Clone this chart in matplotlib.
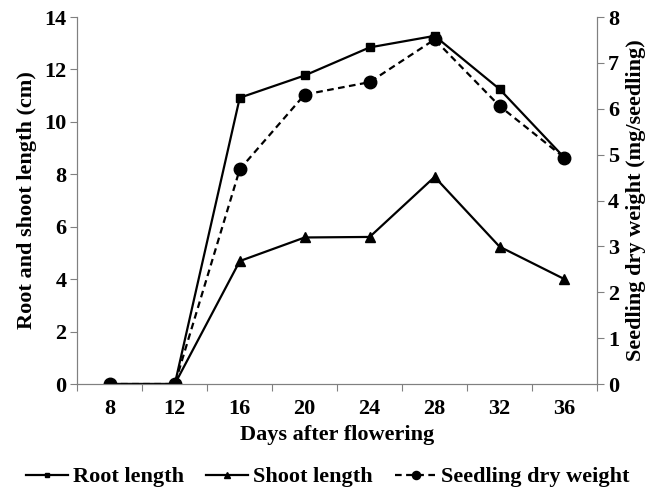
import matplotlib
matplotlib.use('Agg')
import matplotlib.pyplot as plt
import numpy as np

plt.rcParams['font.family'] = ['Liberation Serif', 'DejaVu Serif']
plt.rcParams['font.weight'] = 'bold'

days = [8, 12, 16, 20, 24, 28, 32, 36]
root_length = [0, 0, 10.92, 11.77, 12.84, 13.28, 11.25, 8.63]
shoot_length = [0, 0, 4.69, 5.59, 5.61, 7.9, 5.24, 4.0]
dry_weight = [0, 0, 4.68, 6.31, 6.58, 7.51, 6.06, 4.93]

fig = plt.figure(figsize=(6.56, 4.9), dpi=100)
ax = fig.add_axes([0.118, 0.2163, 0.792, 0.749])
ax2 = ax.twinx()

l1, = ax.plot(days, root_length, color='black', lw=1.6, marker='s', ms=5.5, label='Root length')
l2, = ax.plot(days, shoot_length, color='black', lw=1.6, marker='^', ms=7.5, label='Shoot length')
l3, = ax2.plot(days, dry_weight, color='black', lw=1.6, ls='--', dashes=(3, 2), marker='o', ms=9, label='Seedling dry weight')

ax.set_xlim(6, 38)
ax.set_ylim(0, 14)
ax2.set_ylim(0, 8)
ax.set_yticks(range(0, 15, 2))
ax2.set_yticks(range(0, 9))

# category axis: ticks between categories, labels at centers
ax.set_xticks(np.arange(6, 39, 4))
ax.set_xticklabels([])
ax.set_xticks(days, minor=True)
ax.set_xticklabels([str(d) for d in days], minor=True)
ax.tick_params(axis='x', which='minor', length=0, pad=11, labelsize=16)
ax.tick_params(axis='x', which='major', length=5, direction='out', color='#808080')
ax.tick_params(axis='y', length=5, direction='out', color='#808080', labelsize=16, pad=3)
ax2.tick_params(axis='y', length=5, direction='out', color='#808080', labelsize=16, pad=3)

for a in (ax, ax2):
    a.spines['top'].set_visible(False)
    for s in ('left', 'right', 'bottom'):
        a.spines[s].set_color('#808080')

ax.set_xlabel('Days after flowering', fontsize=16, fontweight='bold', labelpad=4)
ax.set_ylabel('Root and shoot length (cm)', fontsize=16, fontweight='bold', labelpad=5)
ax2.set_ylabel('Seedling dry weight (mg/seedling)', fontsize=16, fontweight='bold', labelpad=5)

fig.legend(handles=[l1, l2, l3], loc='center', bbox_to_anchor=(0.5, 13 / 490), ncol=3,
           frameon=False, fontsize=16, handlelength=1.9, handletextpad=0.2,
           columnspacing=1.0, markerscale=0.65, borderpad=0)

fig.savefig('out.png', dpi=100)
